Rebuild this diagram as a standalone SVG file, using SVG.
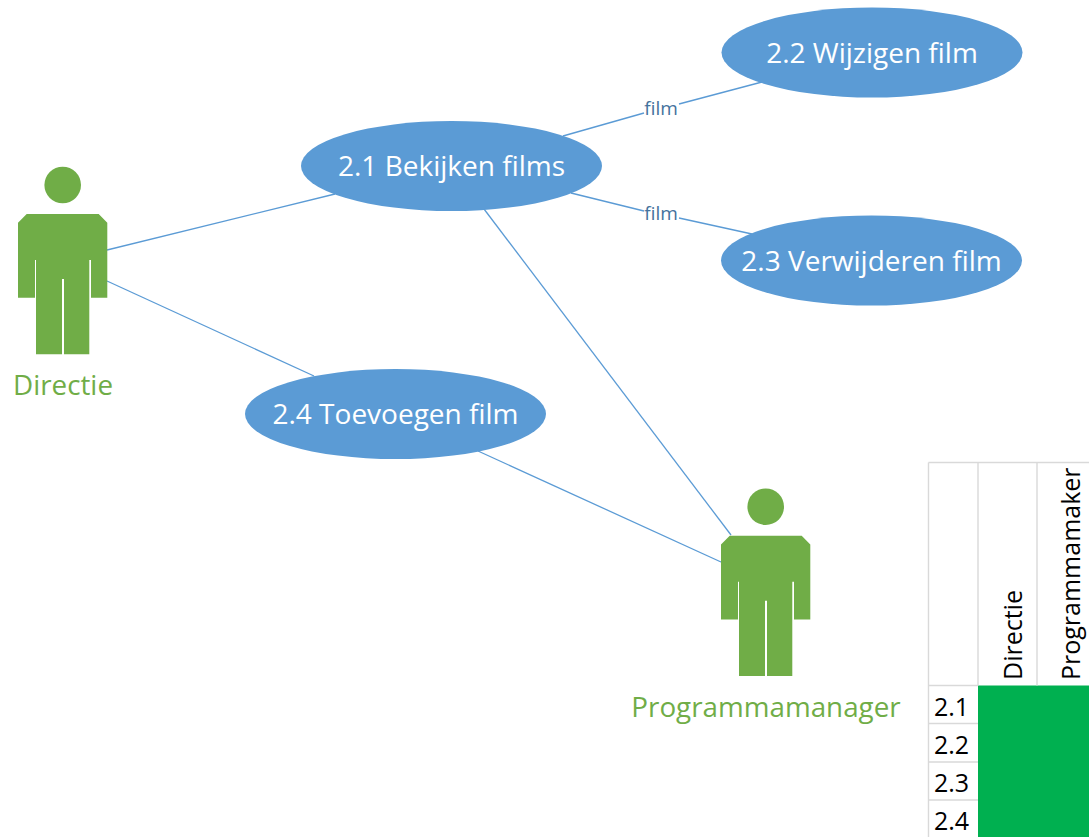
<svg xmlns="http://www.w3.org/2000/svg" width="1089" height="837" viewBox="0 0 1089 837">
<style>
text{font-family:"Open Sans",Lato,sans-serif}
.uc{fill:#5b9bd5}
.ut{fill:#fff;font-size:28px;text-anchor:middle}
.c{stroke:#5b9bd5;stroke-width:1.3;fill:none}
.cl{fill:#44729d;font-size:19px;text-anchor:middle}
.a{fill:#70ad47}
.at{fill:#70ad47;font-size:27.800px;text-anchor:middle}
.g{stroke:#d9d9d9;stroke-width:1.4;fill:none}
.tt{fill:#000;font-size:25px}
</style>
<defs>
<g id="actor">
<circle cx="62.7" cy="185" r="18.3"/>
<path d="M26.7 214H98.7L107.3 222.7V297.7H91V260H89.3V354.3H64V279H62V354.3H36V260H35V297.7H18V222.7Z"/>
</g>
</defs>
<g id="connectors">
<path class="c" d="M107 250L335 194"/>
<path class="c" d="M107 281L314 376"/>
<path class="c" d="M563 136L644 113"/>
<path class="c" d="M679 104L762 82"/>
<path class="c" d="M571 193L644 211"/>
<path class="c" d="M679 218L752 234"/>
<path class="c" d="M484 209L731 535"/>
<path class="c" d="M478 451L721 562"/>
<text class="cl" x="661" y="115">film</text>
<text class="cl" x="661" y="220">film</text>
</g>
<g id="uc21"><ellipse class="uc" cx="451.500" cy="166" rx="150.500" ry="45"/><text class="ut" x="451.500" y="176">2.1 Bekijken films</text></g>
<g id="uc22"><ellipse class="uc" cx="872" cy="52.500" rx="150.500" ry="45"/><text class="ut" x="872" y="63">2.2 Wijzigen film</text></g>
<g id="uc23"><ellipse class="uc" cx="871.500" cy="260.500" rx="150.500" ry="45"/><text class="ut" x="871.500" y="271">2.3 Verwijderen film</text></g>
<g id="uc24"><ellipse class="uc" cx="395.500" cy="414" rx="150.500" ry="45"/><text class="ut" x="395.500" y="424">2.4 Toevoegen film</text></g>
<g id="directie"><use href="#actor" class="a"/><text class="at" x="63" y="395">Directie</text></g>
<g id="programmamanager"><use href="#actor" class="a" transform="translate(703 321.700)"/><text class="at" x="766" y="717">Programmamanager</text></g>
<g id="matrix">
<rect x="978" y="685.500" width="111" height="151.500" fill="#00b050"/>
<path class="g" d="M928.500 462.500H1089M928.500 462.500V837M978 462.500V685.500M1037 462.500V685.500M928.500 685.500H978M928.500 723.500H978M928.500 762H978M928.500 800H978"/>
<text class="tt" transform="translate(1022 680) rotate(-90)">Directie</text>
<text class="tt" transform="translate(1080 680) rotate(-90)">Programmamaker</text>
<text class="tt" x="934" y="716">2.1</text>
<text class="tt" x="934" y="754">2.2</text>
<text class="tt" x="934" y="792">2.3</text>
<text class="tt" x="934" y="830">2.4</text>
</g>
</svg>
